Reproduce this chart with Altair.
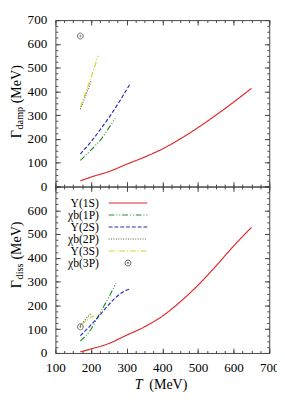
import altair as alt
import pandas as pd

# ---------------- data ----------------
SERIES = ["Υ(1S)", "χb(1P)", "Υ(2S)", "χb(2P)", "Υ(3S)"]
POINT_SERIES = "χb(3P)"

# upper panel: Gamma_damp (MeV)
damp_T_1S = [170, 200, 250, 300, 350, 400, 450, 500, 550, 600, 650]
damp_G_1S = [24, 40, 63, 94, 124, 158, 200, 248, 300, 355, 413]
damp_T_1P = [170, 200, 230, 250, 268]
damp_G_1P = [110, 154, 203, 247, 287]
damp_T_2S = [170, 200, 230, 260, 290, 310]
damp_G_2S = [137, 189, 248, 312, 383, 433]
damp_T_2P = [170, 185, 200]
damp_G_2P = [325, 383, 444]
damp_T_3S = [170, 195, 220]
damp_G_3S = [333, 438, 550]
damp_T_3P = [170]
damp_G_3P = [633]

# lower panel: Gamma_diss (MeV)
diss_T_1S = [170, 200, 250, 300, 350, 400, 450, 500, 550, 600, 650]
diss_G_1S = [5, 17, 40, 75, 110, 155, 215, 285, 365, 450, 528]
diss_T_1P = [170, 200, 222, 250, 270]
diss_G_1P = [51, 100, 160, 235, 294]
diss_T_2S = [170, 200, 222, 245, 268, 290, 310]
diss_G_2S = [73, 118, 155, 195, 232, 257, 270]
diss_T_2P = [170, 185, 200]
diss_G_2P = [115, 142, 167]
diss_T_3S = [172, 190, 205, 218]
diss_G_3S = [117, 140, 154, 160]
diss_T_3P = [170]
diss_G_3P = [110]

x_ticks = [100, 200, 300, 400, 500, 600, 700]
y_ticks_damp = [0, 100, 200, 300, 400, 500, 600, 700]
y_ticks_diss = [0, 100, 200, 300, 400, 500, 600]

# ---------------- styles ----------------
COLORS = ["#e0262b", "#23912a", "#2b2bb8", "#555555", "#d2d22e"]
DASHES = [[1, 0], [6, 2, 1, 2, 1, 2], [4, 2], [1, 1.5], [6, 2, 1, 2]]
CIRC = "M-1,0A1,1,0,1,0,1,0A1,1,0,1,0,-1,0Z M-0.2,0A0.2,0.2,0,1,0,0.2,0A0.2,0.2,0,1,0,-0.2,0Z"
FONT = "Liberation Serif"
TICK = "#444444"
W, H = 221, 172


def lines_df(pairs):
    rows = []
    for name, (ts, gs) in zip(SERIES, pairs):
        for t, g in zip(ts, gs):
            rows.append({"series": name, "T": t, "G": g})
    return pd.DataFrame(rows)


df_damp = lines_df([(damp_T_1S, damp_G_1S), (damp_T_1P, damp_G_1P), (damp_T_2S, damp_G_2S),
                    (damp_T_2P, damp_G_2P), (damp_T_3S, damp_G_3S)])
df_diss = lines_df([(diss_T_1S, diss_G_1S), (diss_T_1P, diss_G_1P), (diss_T_2S, diss_G_2S),
                    (diss_T_2P, diss_G_2P), (diss_T_3S, diss_G_3S)])
pt_damp = pd.DataFrame({"T": damp_T_3P, "G": damp_G_3P})
pt_diss = pd.DataFrame({"T": diss_T_3P, "G": diss_G_3P})

leg_lines = pd.DataFrame({"series": SERIES, "idx": list(range(len(SERIES)))})
leg_point = pd.DataFrame({"series": [POINT_SERIES], "idx": [len(SERIES)]})
leg_all = pd.concat([leg_lines, leg_point], ignore_index=True)

xs = alt.Scale(domain=[100, 700], nice=False, zero=False)
ys = alt.Scale(domain=[0, 700], nice=False, zero=False)
cs = alt.Scale(domain=SERIES, range=COLORS)
ds = alt.Scale(domain=SERIES, range=DASHES)
ls = alt.Scale(type="point", domain=list(range(6)), range=[17, 79], padding=0)
minor_x = list(range(100, 701, 25))
minor_y = list(range(0, 701, 25))


def tick_axis(orient, values, size):
    return alt.Axis(orient=orient, values=values, labels=False, domain=False, grid=False,
                    ticks=True, tickSize=size, offset=-size, tickColor=TICK, tickWidth=1,
                    title=None)


def panel(dfl, dfp, yvals, show_x, legend_on, sub, sub_len, gamma_y):
    x_lab = alt.Axis(values=x_ticks, labels=True, ticks=False, tickSize=0, domain=False,
                     grid=False, labelPadding=8, labelFlush=False, labelOverlap=False,
                     labelFont=FONT, labelFontSize=13.5, labelColor="black", title=None)
    y_lab = alt.Axis(values=yvals, labels=True, ticks=False, tickSize=0, domain=False,
                     grid=False, labelPadding=9, labelFlush=False, labelOverlap=False,
                     labelFont=FONT, labelFontSize=13.5, labelColor="black", title=None)

    lines = alt.Chart(dfl).mark_line(strokeWidth=1.2, clip=True, interpolate="monotone").encode(
        x=alt.X("T:Q", scale=xs, axis=x_lab if show_x else None),
        y=alt.Y("G:Q", scale=ys, axis=y_lab),
        color=alt.Color("series:N", scale=cs, legend=None),
        strokeDash=alt.StrokeDash("series:N", scale=ds, legend=None),
    )
    pts = alt.Chart(dfp).mark_point(filled=False, color="#222222", strokeWidth=1, size=36,
                                    shape=CIRC).encode(
        x=alt.X("T:Q", scale=xs, axis=None),
        y=alt.Y("G:Q", scale=ys, axis=None),
    )

    layers = [lines, pts]
    for orient_x, orient_y, size, xv, yv in [
        ("bottom", "left", 5, x_ticks, y_ticks_damp),
        ("bottom", "left", 2.5, minor_x, minor_y),
        ("top", "right", 5, x_ticks, y_ticks_damp),
        ("top", "right", 2.5, minor_x, minor_y),
    ]:
        layers.append(alt.Chart(dfl).mark_point(opacity=0).encode(
            x=alt.X("T:Q", scale=xs, axis=tick_axis(orient_x, xv, size)),
            y=alt.Y("G:Q", scale=ys, axis=tick_axis(orient_y, yv, size)),
        ))

    if legend_on:
        ly = alt.Y("idx:O", scale=ls, axis=None)
        layers.append(alt.Chart(leg_lines).mark_rule(strokeWidth=1.2).encode(
            x=alt.value(55), x2=alt.value(95), y=ly,
            color=alt.Color("series:N", scale=cs, legend=None),
            strokeDash=alt.StrokeDash("series:N", scale=ds, legend=None),
        ))
        layers.append(alt.Chart(leg_point).mark_point(filled=False, color="#222222", strokeWidth=1,
                                                      size=36, shape=CIRC).encode(
            x=alt.value(75), y=ly))
        layers.append(alt.Chart(leg_all).mark_text(align="right", baseline="middle", font=FONT,
                                                   fontSize=12, color="black").encode(
            x=alt.value(45), y=ly, text="series:N"))

    one = pd.DataFrame({"k": [0]})
    tx = -36
    layers.append(alt.Chart(one).mark_text(text="Γ", angle=270, align="left", baseline="alphabetic",
                                           font=FONT, fontSize=14.5, color="black").encode(
        x=alt.value(tx), y=alt.value(gamma_y)))
    layers.append(alt.Chart(one).mark_text(text=sub, angle=270, align="left", baseline="alphabetic",
                                           font=FONT, fontSize=10.5, color="black").encode(
        x=alt.value(tx + 3), y=alt.value(gamma_y - 9)))
    layers.append(alt.Chart(one).mark_text(text="(MeV)", angle=270, align="left", baseline="alphabetic",
                                           font=FONT, fontSize=14.5, color="black").encode(
        x=alt.value(tx), y=alt.value(gamma_y - 9 - sub_len - 4)))
    if show_x:
        layers.append(alt.Chart(one).mark_text(text="T", align="left", baseline="alphabetic",
                                               font=FONT, fontSize=14.5, fontStyle="italic",
                                               color="black").encode(
            x=alt.value(82), y=alt.value(H + 37)))
        layers.append(alt.Chart(one).mark_text(text="(MeV)", align="left", baseline="alphabetic",
                                               font=FONT, fontSize=14.5, color="black").encode(
            x=alt.value(97), y=alt.value(H + 37)))

    return alt.layer(*layers).resolve_axis(x="independent", y="independent").resolve_scale(
        y="independent").properties(width=W, height=H)


top = panel(df_damp, pt_damp, y_ticks_damp, False, False, "damp", 23, 122)
bottom = panel(df_diss, pt_diss, y_ticks_diss, True, True, "diss", 16.5, 105)

chart = alt.vconcat(top, bottom, spacing=0, bounds="flush").properties(
    padding={"left": 0, "top": -2, "right": -3, "bottom": 0}
).configure_view(stroke=TICK, strokeWidth=1)

chart.save("out.html", embed_options={"renderer": "svg", "actions": False})
